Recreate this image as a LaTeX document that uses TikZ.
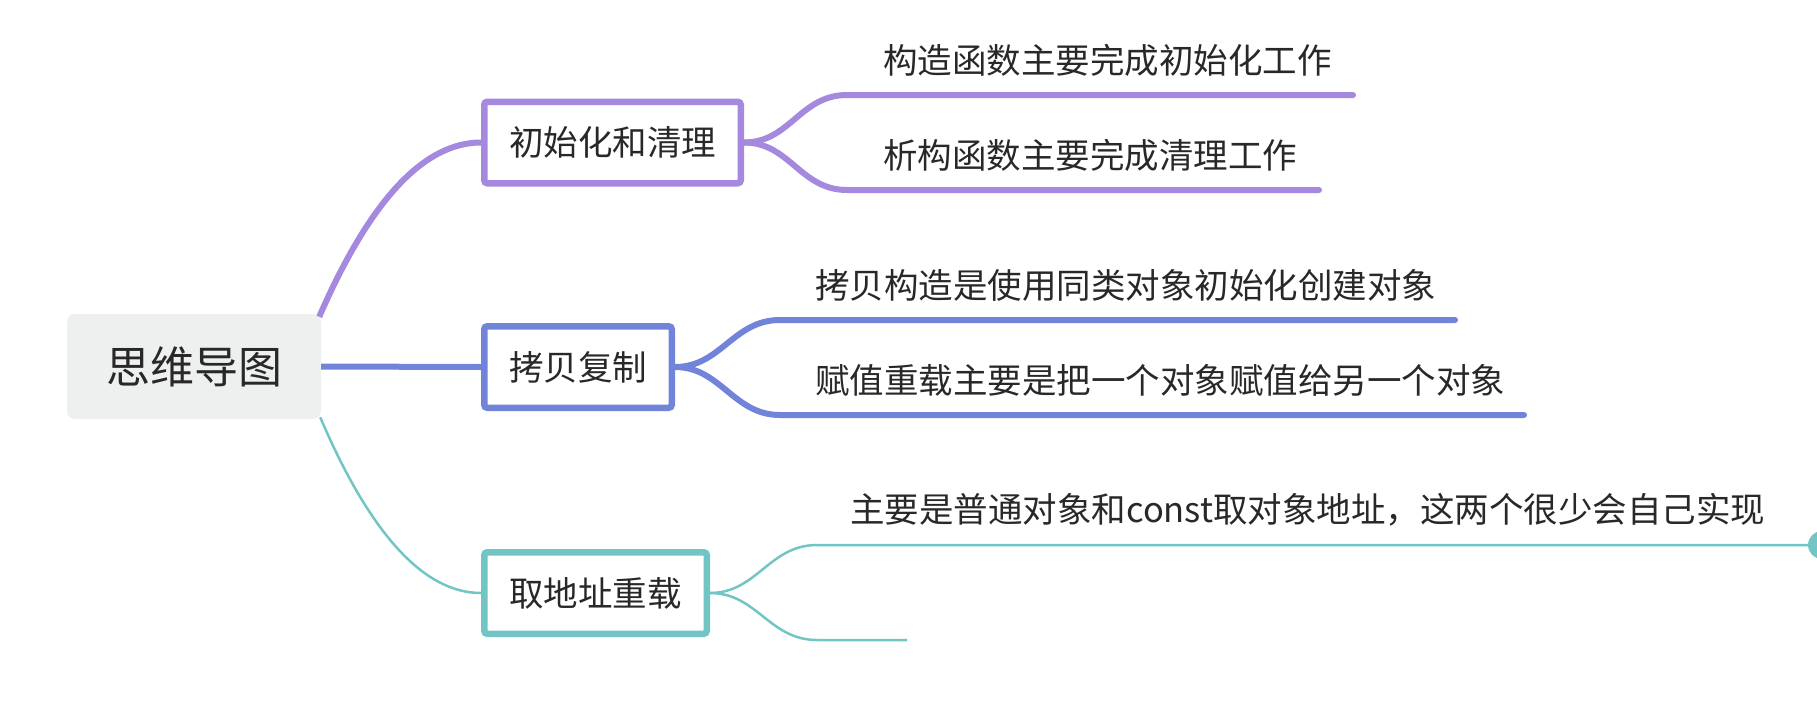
\documentclass[tikz,border=0pt]{standalone}
\usepackage{fontspec}
\setmainfont{Noto Sans CJK SC}
\newfontfamily\cjk{Noto Sans CJK SC}
\usetikzlibrary{calc}
\definecolor{purp}{RGB}{164,137,223}
\definecolor{blu}{RGB}{114,131,218}
\definecolor{tea}{RGB}{114,197,197}
\definecolor{rootfill}{RGB}{238,240,239}
\definecolor{txt}{RGB}{40,40,40}
\tikzset{
  rootbox/.style={fill=rootfill, rounded corners=8pt, minimum width=254pt, minimum height=105pt,
    inner sep=0pt, text=txt, font=\cjk\fontsize{44}{52}\selectfont},
  topic/.style={draw, fill=white, line width=6.5pt, rounded corners=3pt, minimum height=81.5pt,
    inner sep=0pt, text=txt, font=\cjk\fontsize{34.5}{42}\selectfont},
  subtext/.style={anchor=west, inner sep=0pt, text=txt, font=\cjk\fontsize{34.5}{42}\selectfont},
  thick line/.style={line width=6pt},
  thin line/.style={line width=2.5pt},
}
\begin{document}
\begin{tikzpicture}[x=1pt,y=-1pt]
\useasboundingbox (0,0) rectangle (1817,723);
\clip (0,0) rectangle (1817,723);

% nodes
\node[rootbox] (root) at (194,366.5) {思维导图};
\node[topic, draw=purp, minimum width=256.5pt] (b1) at (612.5,142.5) {初始化和清理};
\node[topic, draw=blu, minimum width=187.5pt] (b2) at (578,367) {拷贝复制};
\node[topic, draw=tea, minimum width=222.5pt] (b3) at (595.5,593) {取地址重载};

\node[subtext] (t1) at (883,60) {构造函数主要完成初始化工作};
\node[subtext] (t2) at (883,155) {析构函数主要完成清理工作};
\node[subtext] (t3) at (815,285) {拷贝构造是使用同类对象初始化创建对象};
\node[subtext] (t4) at (815,380) {赋值重载主要是把一个对象赋值给另一个对象};
\node[subtext] (t5) at (850,510) {主要是普通对象和const取对象地址，这两个很少会自己实现};

\coordinate (p1a) at (847,95);  \coordinate (p1b) at (1353,95);
\coordinate (p2a) at (847,190); \coordinate (p2b) at (1319,190);
\coordinate (q1a) at (780,320); \coordinate (q1b) at (1455,320);
\coordinate (q2a) at (780,415); \coordinate (q2b) at (1524,415);
\coordinate (r1a) at (817,545);
\coordinate (r2a) at (817,640); \coordinate (r2b) at (907,640);
\node[circle, fill=tea, minimum size=28pt, inner sep=0pt] (fold) at (1822,545) {};

% main branches
\draw[purp, thick line] ($(root.north east)+(-2,3)$) .. controls +(51,-117) and +(-57,0) .. (b1.west);
\draw[blu, thick line] (root.east) -- (b2.west);
\draw[tea, thin line] ($(root.south east)+(-1,-2)$) .. controls +(50,117) and +(-57,0) .. (b3.west);

% sub branches
\draw[purp, thick line, line cap=round] (b1.east) .. controls +(46,0) and +(-47,0) .. (p1a) -- (p1b);
\draw[purp, thick line, line cap=round] (b1.east) .. controls +(46,0) and +(-47,0) .. (p2a) -- (p2b);
\draw[blu, thick line, line cap=round] (b2.east) .. controls +(46,0) and +(-47,0) .. (q1a) -- (q1b);
\draw[blu, thick line, line cap=round] (b2.east) .. controls +(46,0) and +(-47,0) .. (q2a) -- (q2b);
\draw[tea, thin line] (b3.east) .. controls +(47,0) and +(-48,0) .. (r1a) -- (fold);
\draw[tea, thin line] (b3.east) .. controls +(47,0) and +(-48,0) .. (r2a) -- (r2b);
\end{tikzpicture}
\end{document}
